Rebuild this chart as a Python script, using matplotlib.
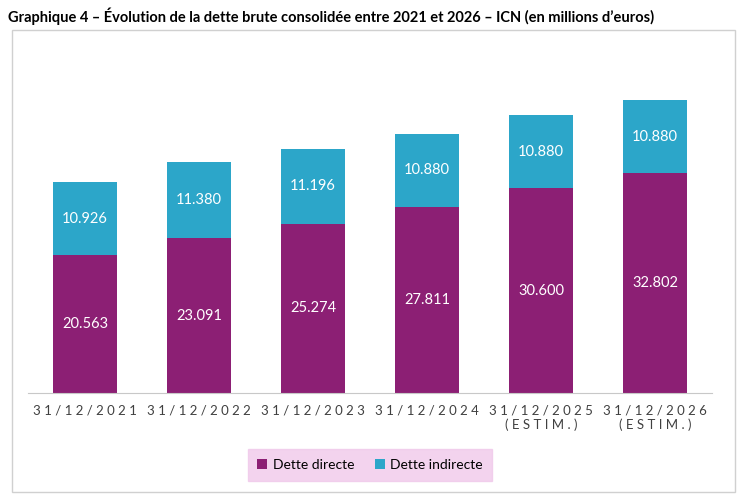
import matplotlib.pyplot as plt
from matplotlib.patches import Rectangle

plt.rcParams['font.family'] = ['Lato', 'DejaVu Sans']

categories = ['31/12/2021', '31/12/2022', '31/12/2023', '31/12/2024',
              '31/12/2025\n(ESTIM.)', '31/12/2026\n(ESTIM.)']
directe = [20563, 23091, 25274, 27811, 30600, 32802]
indirecte = [10926, 11380, 11196, 10880, 10880, 10880]

purple = '#8C1F74'
cyan = '#2CA6C9'

fig = plt.figure(figsize=(7.56, 5.04), dpi=100)
fig.patches.append(Rectangle((12/756, 1-492/504), 723/756, 462/504, transform=fig.transFigure,
                             fill=False, edgecolor='#D0D0D0', linewidth=1))
fig.text(8/756, 1-16/504, 'Graphique 4 – Évolution de la dette brute consolidée entre 2021 et 2026 – ICN (en millions d\u2019euros)',
         fontsize=10.5, fontweight='bold', va='center', ha='left')

ax = fig.add_axes([28/756, 0.22, 684/756, 0.665])
x = range(len(categories))
b1 = ax.bar(x, directe, width=0.56, color=purple, label='Dette directe')
b2 = ax.bar(x, indirecte, width=0.56, bottom=directe, color=cyan, label='Dette indirecte')
for i in x:
    ax.text(i, directe[i] / 2, f'{directe[i]:,}'.replace(',', '.'), color='white',
            ha='center', va='center', fontsize=10.5)
    ax.text(i, directe[i] + indirecte[i] / 2, f'{indirecte[i]:,}'.replace(',', '.'), color='white',
            ha='center', va='center', fontsize=10.5)

ax.set_xlim(-0.5, 5.5)
ax.set_ylim(0, 50000)
ax.set_xticks(list(x))
ax.set_xticklabels([c.replace('', ' ').strip().replace(' \n ', '\n') for c in categories],
                   fontsize=9.5, color='#404040', linespacing=1.2)
ax.tick_params(axis='x', length=0, pad=8)
ax.set_yticks([])
for s in ['top', 'right', 'left']:
    ax.spines[s].set_visible(False)
ax.spines['bottom'].set_color('#C8C8C8')

leg = fig.legend(handles=[b1, b2], loc='center', bbox_to_anchor=(370/756, 1-465/504), ncol=2,
                 frameon=True, fontsize=10, handlelength=0.7, handleheight=0.7,
                 columnspacing=1.5, handletextpad=0.4)
leg.get_frame().set_facecolor('#F0C8EA')
leg.get_frame().set_edgecolor('#F0C8EA')
leg.get_frame().set_boxstyle('square')

fig.savefig('out.png', dpi=100)
